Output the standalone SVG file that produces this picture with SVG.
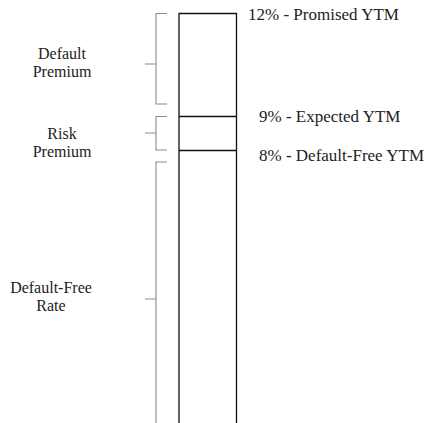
<svg xmlns="http://www.w3.org/2000/svg" width="426" height="423" viewBox="0 0 426 423">
<style>
.box{fill:none;stroke:#111;stroke-width:1.3}
.br{fill:none;stroke:#8a8a8a;stroke-width:1.1}
.t{font-family:'Liberation Serif','Times New Roman',serif;font-size:16px;fill:#222}
.r{font-size:17px}
.c{text-anchor:middle}
</style>
<rect width="426" height="423" fill="#fff"/>
<g id="bar">
<path class="box" d="M179,430 V13.5 H236.5 V430"/>
<line class="box" x1="179" y1="116.5" x2="236.5" y2="116.5"/>
<line class="box" x1="179" y1="150.5" x2="236.5" y2="150.5"/>
</g>
<g id="connectors">
<path class="br" d="M167,13.5 H156 V104 H167 M145,64 H156"/>
<path class="br" d="M167,116.5 H156 V150 H167 M145,133 H156"/>
<path class="br" d="M167,162 H156 V430 M145,299 H156"/>
</g>
<g id="default-premium" class="t c"><text x="62" y="59">Default</text><text x="62" y="77">Premium</text></g>
<g id="risk-premium" class="t c"><text x="62" y="139">Risk</text><text x="62" y="157">Premium</text></g>
<g id="default-free-rate" class="t c"><text x="51" y="293">Default-Free</text><text x="51" y="311">Rate</text></g>
<g id="promised" class="t r"><text x="248" y="20">12% - Promised YTM</text></g>
<g id="expected" class="t r"><text x="259" y="122">9% - Expected YTM</text></g>
<g id="defaultfree" class="t r"><text x="259" y="161">8% - Default-Free YTM</text></g>
</svg>
